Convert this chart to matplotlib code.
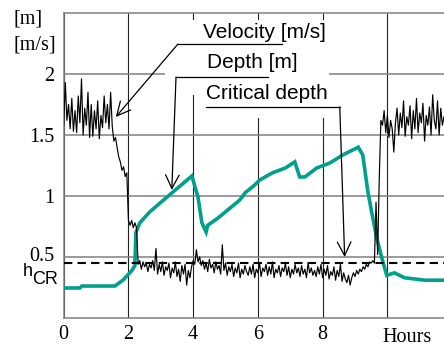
import matplotlib
matplotlib.use('Agg')
import matplotlib.pyplot as plt
import numpy as np
from matplotlib.patches import Rectangle
from matplotlib.transforms import offset_copy

# ---------------- data ----------------
# Depth [m] (teal line): time [h], depth [m]
depth_t = [0.00, 0.50, 0.56, 1.58, 1.83, 2.11, 2.20, 2.23, 2.35, 2.66, 3.34, 3.96,
           4.15, 4.27, 4.40, 4.45, 4.77, 5.44, 5.60, 5.90, 6.05, 6.45, 6.85, 7.14,
           7.29, 7.45, 7.82, 8.22, 8.62, 9.10, 9.24, 9.39, 9.52, 9.67, 9.82, 9.98,
           10.22, 10.53, 11.15, 11.75]
depth_v = [0.246, 0.246, 0.262, 0.262, 0.31, 0.39, 0.43, 0.70, 0.78, 0.87, 1.025, 1.164,
           0.99, 0.78, 0.705, 0.76, 0.82, 0.967, 1.025, 1.09, 1.13, 1.19, 1.23, 1.28,
           1.156, 1.156, 1.23, 1.27, 1.336, 1.40, 1.336, 1.05, 0.86, 0.66, 0.50, 0.35,
           0.37, 0.33, 0.31, 0.31]

# Velocity [m/s] (black line), sampled every 0.05 h, in three stretches
vel_step = 0.05
vel_high1_start = 0.00
vel_high1 = [1.58, 1.93, 1.62, 1.75, 1.55, 1.80, 1.53, 1.70, 1.52, 1.82,
             1.60, 1.96, 1.50, 1.72, 1.58, 1.85, 1.48, 1.75, 1.49, 1.70,
             1.55, 1.78, 1.47, 1.66, 1.56, 1.82, 1.60, 1.75, 1.55, 1.85,
             1.57, 1.45, 1.48, 1.40, 1.32, 1.28, 1.21, 1.24, 1.16, 1.19,
             0.80, 0.76, 0.80, 0.74, 0.78, 0.74]
vel_low_start = 2.30
vel_low = [0.44, 0.47, 0.40, 0.46, 0.42, 0.45, 0.38, 0.44, 0.41, 0.47,
           0.39, 0.57, 0.36, 0.44, 0.38, 0.46, 0.35, 0.42, 0.39, 0.45,
           0.33, 0.41, 0.37, 0.46, 0.34, 0.40, 0.30, 0.43, 0.36, 0.44,
           0.27, 0.39, 0.33, 0.42, 0.47, 0.44, 0.56, 0.46, 0.50, 0.43,
           0.47, 0.40, 0.45, 0.38, 0.48, 0.41, 0.44, 0.37, 0.46, 0.40,
           0.43, 0.36, 0.60, 0.39, 0.45, 0.35, 0.42, 0.38, 0.44, 0.34,
           0.41, 0.37, 0.45, 0.33, 0.40, 0.36, 0.43, 0.38, 0.35, 0.42,
           0.36, 0.44, 0.33, 0.40, 0.37, 0.45, 0.34, 0.41, 0.38, 0.44,
           0.35, 0.42, 0.36, 0.46, 0.33, 0.40, 0.37, 0.43, 0.34, 0.41,
           0.38, 0.45, 0.35, 0.42, 0.33, 0.40, 0.36, 0.44, 0.37, 0.41,
           0.34, 0.43, 0.36, 0.40, 0.33, 0.45, 0.37, 0.41, 0.35, 0.39,
           0.34, 0.42, 0.36, 0.44, 0.33, 0.40, 0.35, 0.43, 0.32, 0.38,
           0.35, 0.42, 0.31, 0.39, 0.34, 0.44, 0.30, 0.37, 0.32, 0.29,
           0.35, 0.27, 0.33, 0.37, 0.34, 0.39, 0.36, 0.40, 0.38, 0.42,
           0.40, 0.44, 0.42, 0.46]
vel_high2_start = 9.50
vel_high2 = [0.45, 0.47, 0.45, 0.95, 0.52, 1.15, 1.62, 1.58, 1.70, 1.52,
             1.66, 1.48, 1.62, 1.55, 1.36, 1.60, 1.72, 1.50, 1.68, 1.56,
             1.78, 1.49, 1.65, 1.58, 1.74, 1.47, 1.70, 1.55, 1.80, 1.52,
             1.68, 1.60, 1.76, 1.45, 1.66, 1.58, 1.73, 1.50, 1.83, 1.62,
             1.55, 1.78, 1.50, 1.72, 1.58, 1.65]

h_cr = 0.45

xtick_vals = [0, 2, 4, 6, 8, 10]
xtick_labels = ['0', '2', '4', '6', '8', '']
ytick_vals = [0.5, 1.0, 1.5, 2.0]
ytick_labels = ['0.5', '1', '1.5', '2']

# ---------------- figure ----------------
W, H = 444, 346
fig = plt.figure(figsize=(W / 100, H / 100), dpi=100)
ax = fig.add_axes([63.7 / W, 28 / H, (W - 63.7) / W, 305 / H])
ax.set_xlim(0, 11.75)
ax.set_ylim(0, 2.5)

serif = 'Liberation Serif'
sans = 'Liberation Sans'
teal = '#00a08a'

def vel_times(start, vals):
    return start + vel_step * np.arange(len(vals))

vel_t = np.concatenate([vel_times(vel_high1_start, vel_high1),
                        vel_times(vel_low_start, vel_low),
                        vel_times(vel_high2_start, vel_high2)])
vel_v = np.concatenate([vel_high1, vel_low, vel_high2])

# grid
ax.set_xticks(xtick_vals)
ax.set_xticklabels(xtick_labels, family=serif, fontsize=14.5)
ax.set_yticks(ytick_vals)
ax.set_yticklabels(ytick_labels, family=serif, fontsize=14.5)
ax.tick_params(length=0)
ax.tick_params(axis='y', pad=7)
ax.tick_params(axis='x', pad=5)
ax.set_axisbelow(True)
ax.xaxis.grid(True, color='#222222', lw=0.8)
ax.yaxis.grid(True, color='#808080', lw=1.1)
for s in ['left', 'bottom', 'top']:
    ax.spines[s].set_color('#808080')
    ax.spines[s].set_linewidth(1.1)
ax.spines['right'].set_visible(False)

# the "0.5" label sits slightly above its grid line in the reference
lab05 = ax.get_yticklabels()[0]
lab05.set_transform(offset_copy(lab05.get_transform(), fig=fig, x=0, y=2, units='points'))

# white areas behind the annotation texts
ax.add_patch(Rectangle((3.13, 1.828), 8.2 - 3.13, 2.44 - 1.828,
                       facecolor='white', edgecolor='none', zorder=1))
ax.add_patch(Rectangle((4.2, 1.64), 8.2 - 4.2, 1.83 - 1.64,
                       facecolor='white', edgecolor='none', zorder=1))

# data lines
ax.plot(depth_t, depth_v, color=teal, lw=2.6, zorder=3, solid_joinstyle='miter')
ax.plot(vel_t, vel_v, color='black', lw=0.85, zorder=4)
ax.axhline(h_cr, color='black', lw=1.5, ls=(0, (4, 2.5)), zorder=3)

# annotations
txt_kw = dict(family=sans, fontsize=15, va='center', ha='left', zorder=5)
ax.text(4.30, 2.344, 'Velocity [m/s]', **txt_kw)
ax.text(4.43, 2.098, 'Depth [m]', **txt_kw)
ax.text(4.40, 1.844, 'Critical depth', **txt_kw)

arrow = dict(arrowstyle='->,head_length=0.7,head_width=0.35', lw=0.9,
             color='black', shrinkA=0, shrinkB=0, mutation_scale=14)
# velocity leader
ax.plot([3.53, 6.74], [2.246, 2.246], color='black', lw=0.9, zorder=5)
ax.annotate('', xy=(1.61, 1.648), xytext=(3.53, 2.246), arrowprops=arrow, zorder=5)
# depth leader
ax.plot([3.47, 6.31], [1.975, 1.975], color='black', lw=0.9, zorder=5)
ax.annotate('', xy=(3.34, 1.05), xytext=(3.47, 1.975), arrowprops=arrow, zorder=5)
# critical depth leader
ax.plot([4.39, 8.53], [1.73, 1.73], color='black', lw=0.9, zorder=5)
ax.annotate('', xy=(8.68, 0.50), xytext=(8.53, 1.73), arrowprops=arrow, zorder=5)

# extra labels in pixel positions
def fx(px):
    return px / W

def fy(py):
    return 1 - py / H

fig.text(fx(13), fy(19), '[m]', family=serif, fontsize=14.5, ha='left', va='center')
fig.text(fx(13), fy(45), '[m/s]', family=serif, fontsize=14.5, ha='left', va='center')
fig.text(fx(407), fy(337.5), 'Hours', family=serif, fontsize=14.5, ha='center', va='center')
fig.text(fx(23), fy(276), 'h', family=sans, fontsize=13, ha='left', va='baseline')
fig.text(fx(32.5), fy(284), 'CR', family=sans, fontsize=13, ha='left', va='baseline')

fig.savefig('out.png', dpi=100)
